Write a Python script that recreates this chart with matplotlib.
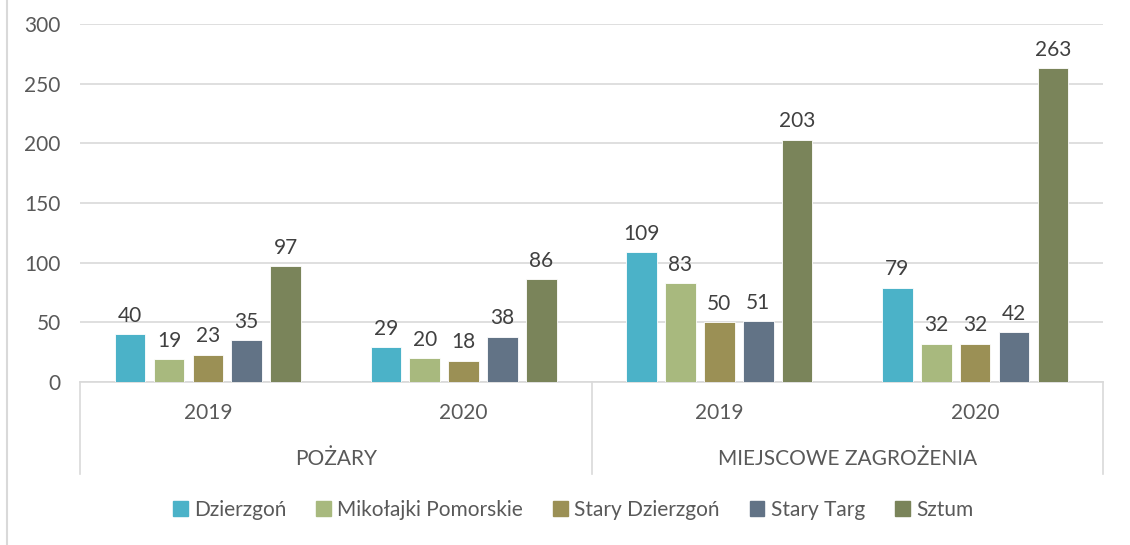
import numpy as np
import matplotlib.pyplot as plt
from matplotlib.lines import Line2D

years = ["2019", "2020", "2019", "2020"]
groups = ["POŻARY", "MIEJSCOWE ZAGROŻENIA"]
series = ["Dzierzgoń", "Mikołajki Pomorskie", "Stary Dzierzgoń", "Stary Targ", "Sztum"]
dzierzgon = [40, 29, 109, 79]
mikolajki = [19, 20, 83, 32]
stary_dzierzgon = [23, 18, 50, 32]
stary_targ = [35, 38, 51, 42]
sztum = [97, 86, 203, 263]
colors = ["#4BB2C8", "#A8B97E", "#9B9055", "#627386", "#7A845A"]

plt.rcParams['font.family'] = ['Lato', 'DejaVu Sans']
txt = "#595959"
fs = 15

fig = plt.figure(figsize=(11.3, 5.45), dpi=100)
ax = fig.add_axes([80/1130, 1-382/545, (1103-80)/1130, (382-24)/545])

x = np.arange(len(years))
w = 0.12
step = 0.152
vals = [dzierzgon, mikolajki, stary_dzierzgon, stary_targ, sztum]
for i, (name, v, c) in enumerate(zip(series, vals, colors)):
    pos = x + (i-2)*step
    ax.bar(pos, v, w, color=c, label=name, edgecolor="white", linewidth=0.6, zorder=3)
    for p, val in zip(pos, v):
        ax.text(p, val+7, str(val), ha="center", va="bottom", fontsize=fs, color="#404040")

ax.set_xlim(-0.5, 3.5)
ax.set_ylim(0, 300)
ax.set_yticks(range(0, 301, 50))
ax.yaxis.grid(True, color="#D9D9D9", lw=1.2, zorder=0)
ax.tick_params(axis="y", length=0, labelsize=fs, labelcolor=txt, pad=14)
ax.set_xticks([])
for s in ["top", "right", "left"]:
    ax.spines[s].set_visible(False)
ax.spines["bottom"].set_color("#D9D9D9")
ax.spines["bottom"].set_linewidth(1.2)

# category labels below the axis
def fy(py):
    return 1-py/545
def fx(px):
    return px/1130
for i, yr in enumerate(years):
    fig.text(fx(80 + (i+0.5)*1023/4), fy(413), yr, ha="center", va="center", fontsize=fs, color=txt)
for i, g in enumerate(groups):
    fig.text(fx(80 + (i+0.5)*1023/2), fy(459), g, ha="center", va="center", fontsize=fs, color=txt)
for px in [80, 592, 1103]:
    fig.add_artist(Line2D([fx(px), fx(px)], [fy(382), fy(474)], color="#D9D9D9", lw=1.2))
fig.add_artist(Line2D([fx(7), fx(7)], [0, 1], color="#D9D9D9", lw=1.5))

handles = [plt.Rectangle((0, 0), 1, 1, color=c) for c in colors]
fig.legend(handles, series, loc="center", bbox_to_anchor=(fx(573), fy(510)), ncol=5, frameon=False,
           fontsize=fs, labelcolor=txt, handlelength=0.7, handleheight=0.7, handletextpad=0.3, columnspacing=1.45)

fig.savefig("out.png", dpi=100)
